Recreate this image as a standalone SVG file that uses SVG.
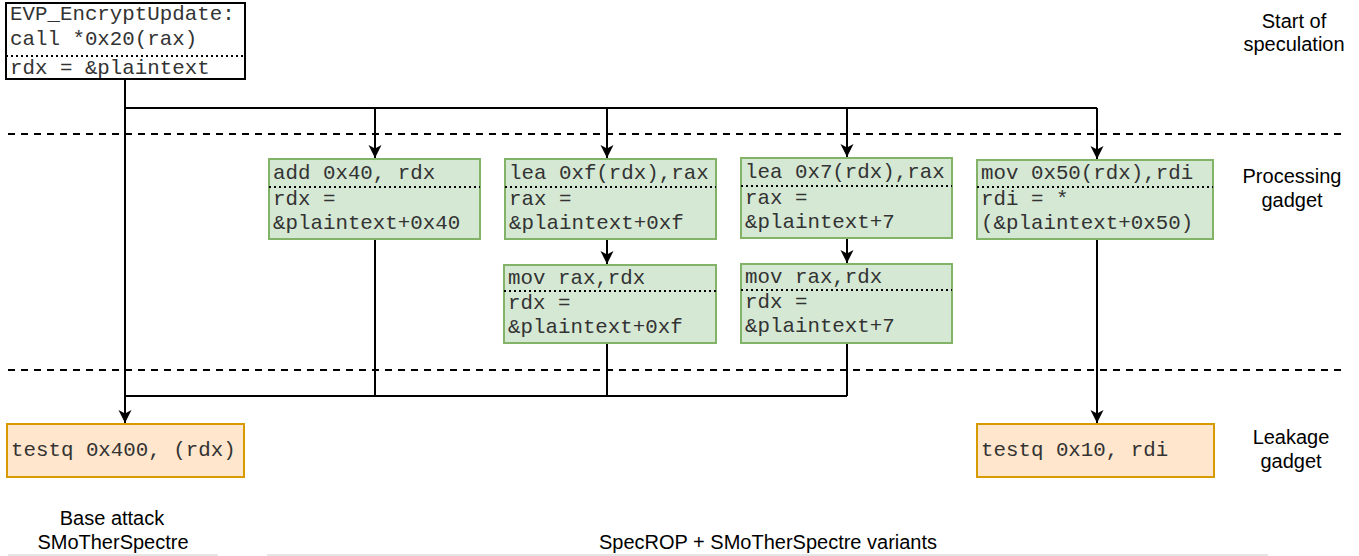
<svg xmlns="http://www.w3.org/2000/svg" width="1359" height="556" viewBox="0 0 1359 556">
<style>
.mono{font-family:"Liberation Mono","Courier New",monospace;font-size:20.8px;fill:#333}
.lbl{font-family:"Liberation Sans",Arial,Helvetica,sans-serif;font-size:20px;fill:#000;text-anchor:middle}
.g{fill:#d5e8d4;stroke:#82b366;stroke-width:2}
.o{fill:#ffe6cc;stroke:#d79b00;stroke-width:2}
.w{fill:#fff;stroke:#000;stroke-width:2}
.dot{stroke:#000;stroke-width:2;stroke-dasharray:2,3;fill:none}
.c{stroke:#000;stroke-width:2;fill:none}
.dash{stroke:#000;stroke-width:2;stroke-dasharray:7,6;fill:none}
.sep{stroke:#ddd;stroke-width:1.5;fill:none}
</style>
<defs>
<marker id="arr" markerUnits="userSpaceOnUse" markerWidth="14" markerHeight="14" refX="13" refY="7" orient="auto">
<path d="M0,0.5 L13,7 L0,13.5 L3.5,7 z" fill="#000"/>
</marker>
</defs>
<g id="swimlanes">
<path class="dash" d="M8,134 H1345"/>
<path class="dash" d="M8,370 H1345"/>
</g>
<g id="connectors">
<path class="c" d="M125,79 V423" marker-end="url(#arr)"/>
<path class="c" d="M125,108 H1097"/>
<path class="c" d="M375,108 V158" marker-end="url(#arr)"/>
<path class="c" d="M607,108 V158" marker-end="url(#arr)"/>
<path class="c" d="M847,108 V157" marker-end="url(#arr)"/>
<path class="c" d="M1097,108 V159" marker-end="url(#arr)"/>
<path class="c" d="M607,239 V264" marker-end="url(#arr)"/>
<path class="c" d="M847,238 V263" marker-end="url(#arr)"/>
<path class="c" d="M375,239 V396"/>
<path class="c" d="M607,343 V396"/>
<path class="c" d="M847,343 V396"/>
<path class="c" d="M125,396 H847"/>
<path class="c" d="M1097,239 V423" marker-end="url(#arr)"/>
</g>
<g id="start">
<rect class="w" x="6" y="3" width="239" height="76"/>
<text class="mono" x="10" y="20">EVP_EncryptUpdate:</text>
<text class="mono" x="10" y="45">call *0x20(rax)</text>
<path class="dot" d="M6,56 H245"/>
<text class="mono" x="10" y="74">rdx = &amp;plaintext</text>
</g>
<g id="add">
<rect class="g" x="269" y="159" width="211" height="80"/>
<text class="mono" x="273" y="179">add 0x40, rdx</text>
<path class="dot" d="M269,187 H480"/>
<text class="mono" x="273" y="205">rdx =</text>
<text class="mono" x="273" y="229">&amp;plaintext+0x40</text>
</g>
<g id="leaf">
<rect class="g" x="505" y="159" width="211" height="80"/>
<text class="mono" x="509" y="179">lea 0xf(rdx),rax</text>
<path class="dot" d="M505,187 H716"/>
<text class="mono" x="509" y="205">rax =</text>
<text class="mono" x="509" y="229">&amp;plaintext+0xf</text>
</g>
<g id="lea7">
<rect class="g" x="741" y="158" width="211" height="80"/>
<text class="mono" x="745" y="178">lea 0x7(rdx),rax</text>
<path class="dot" d="M741,186 H952"/>
<text class="mono" x="745" y="204">rax =</text>
<text class="mono" x="745" y="228">&amp;plaintext+7</text>
</g>
<g id="mov50">
<rect class="g" x="977" y="160" width="236" height="79"/>
<text class="mono" x="981" y="179">mov 0x50(rdx),rdi</text>
<path class="dot" d="M977,187 H1213"/>
<text class="mono" x="981" y="205">rdi = *</text>
<text class="mono" x="981" y="229">(&amp;plaintext+0x50)</text>
</g>
<g id="movf">
<rect class="g" x="504" y="265" width="212" height="78"/>
<text class="mono" x="508" y="284">mov rax,rdx</text>
<path class="dot" d="M504,291 H716"/>
<text class="mono" x="508" y="309">rdx =</text>
<text class="mono" x="508" y="333">&amp;plaintext+0xf</text>
</g>
<g id="mov7">
<rect class="g" x="741" y="264" width="211" height="79"/>
<text class="mono" x="745" y="283">mov rax,rdx</text>
<path class="dot" d="M741,290 H952"/>
<text class="mono" x="745" y="308">rdx =</text>
<text class="mono" x="745" y="332">&amp;plaintext+7</text>
</g>
<g id="leak1">
<rect class="o" x="7" y="424" width="237" height="53"/>
<text class="mono" x="11" y="456">testq 0x400, (rdx)</text>
</g>
<g id="leak2">
<rect class="o" x="977" y="424" width="237" height="53"/>
<text class="mono" x="981" y="456">testq 0x10, rdi</text>
</g>
<g id="labels">
<text class="lbl" x="1294" y="28">Start of</text>
<text class="lbl" x="1294" y="51">speculation</text>
<text class="lbl" x="1292" y="183">Processing</text>
<text class="lbl" x="1292" y="207">gadget</text>
<text class="lbl" x="1291" y="444">Leakage</text>
<text class="lbl" x="1291" y="468">gadget</text>
<text class="lbl" x="112" y="525">Base attack</text>
<text class="lbl" x="113" y="549">SMoTherSpectre</text>
<text class="lbl" x="768" y="549">SpecROP + SMoTherSpectre variants</text>
<path class="sep" d="M8,555 H218"/>
<path class="sep" d="M267,555 H1268"/>
</g>
</svg>
